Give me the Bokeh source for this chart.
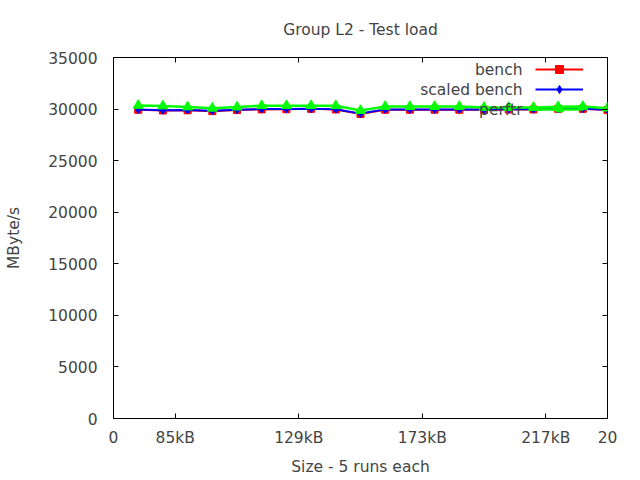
from bokeh.plotting import figure
from bokeh.models import (FixedTicker, LinearAxis, Legend, LegendItem, Label, Range1d)
from bokeh.embed import file_html
from bokeh.resources import INLINE

# ---- data ----
x_idx = list(range(1, 21))
bench = [29930, 29860, 29880, 29800, 29900, 29970, 29980, 30020, 29960, 29520,
         29940, 29940, 29940, 29940, 29930, 29960, 29960, 30020, 30020, 29900]
scaled_bench = [29960, 29890, 29910, 29830, 29930, 30000, 30010, 30040, 29990, 29560,
                29970, 29970, 29970, 29970, 29960, 29990, 29990, 30040, 30040, 29930]
perftr = [30350, 30300, 30200, 30080, 30190, 30330, 30330, 30330, 30320, 29860,
          30250, 30250, 30250, 30250, 30150, 30150, 30150, 30220, 30250, 30090]
x_tick_pos = [0, 2.5, 7.5, 12.5, 17.5, 20]
x_tick_labels = ["0", "85kB", "129kB", "173kB", "217kB", "20"]
y_ticks = [0, 5000, 10000, 15000, 20000, 25000, 30000, 35000]
series_names = ["bench", "scaled bench", "perftr"]

FONT = "DejaVu Sans"
FS = "15.5px"

p = figure(width=640, height=480, output_backend="svg", toolbar_location=None,
           x_range=Range1d(0, 20), y_range=Range1d(0, 35000),
           min_border_left=113, min_border_right=33, min_border_top=57, min_border_bottom=62,
           title="Group L2 - Test load")
p.title.text_font = FONT
p.title.text_font_size = FS
p.title.text_font_style = "normal"
p.title.align = "center"
p.title.standoff = 37
p.grid.visible = False
p.outline_line_color = "black"
p.outline_line_width = 1
p.background_fill_color = "white"
p.border_fill_color = "white"

for ax in (p.xaxis[0], p.yaxis[0]):
    ax.major_tick_in = 5
    ax.major_tick_out = 0
    ax.minor_tick_line_color = None
    ax.axis_line_color = "black"
    ax.major_label_text_font = FONT
    ax.major_label_text_font_size = FS
    ax.axis_label_text_font = FONT
    ax.axis_label_text_font_size = FS
    ax.axis_label_text_font_style = "normal"

p.xaxis[0].ticker = FixedTicker(ticks=x_tick_pos)
p.xaxis[0].major_label_overrides = {t: l for t, l in zip(x_tick_pos, x_tick_labels)}
p.xaxis[0].axis_label = "Size - 5 runs each"
p.xaxis[0].major_label_standoff = 10
p.xaxis[0].axis_label_standoff = 8

p.yaxis[0].ticker = FixedTicker(ticks=y_ticks)
p.yaxis[0].axis_label = "MByte/s"
p.yaxis[0].major_label_standoff = 16
p.yaxis[0].axis_label_standoff = 22

# mirror ticks (no labels)
top_ticks = x_tick_pos[1:-1]
top = LinearAxis(ticker=FixedTicker(ticks=top_ticks), major_tick_in=5, major_tick_out=0,
                 minor_tick_line_color=None, axis_line_color=None,
                 major_label_overrides={t: "" for t in top_ticks})
right = LinearAxis(ticker=FixedTicker(ticks=y_ticks), major_tick_in=5, major_tick_out=0,
                   minor_tick_line_color=None, axis_line_color=None,
                   major_label_overrides={t: "" for t in y_ticks})
p.add_layout(top, "above")
p.add_layout(right, "right")

r1l = p.line(x_idx, bench, line_color="#ff0000", line_width=2)
r1m = p.scatter(x_idx, bench, marker="square", size=7, fill_color="#ff0000", line_color="#ff0000")
r2l = p.line(x_idx, scaled_bench, line_color="#0000ff", line_width=2)
r2m = p.scatter(x_idx, scaled_bench, marker="diamond", size=8, fill_color="#0000ff", line_color="#0000ff")
r3l = p.line(x_idx, perftr, line_color="#00ff00", line_width=2.5)
r3m = p.scatter(x_idx, perftr, marker="triangle", size=10, fill_color="#00ff00", line_color="#00ff00")

legend = Legend(items=[LegendItem(label="", renderers=[r1l, r1m]),
                       LegendItem(label="", renderers=[r2l, r2m]),
                       LegendItem(label="", renderers=[r3l, r3m])],
                location=(422, 299), glyph_width=48, glyph_height=20, label_height=20,
                label_width=0, label_standoff=0, spacing=0, padding=0, margin=0,
                border_line_color=None, background_fill_alpha=0)
p.add_layout(legend)

for i, name in enumerate(series_names):
    p.add_layout(Label(x=409, y=349 - 20 * i, x_units="screen", y_units="screen", text=name,
                       text_align="right", text_baseline="middle", text_font=FONT,
                       text_font_size=FS))

open("out.html", "w").write(file_html(p, INLINE))
